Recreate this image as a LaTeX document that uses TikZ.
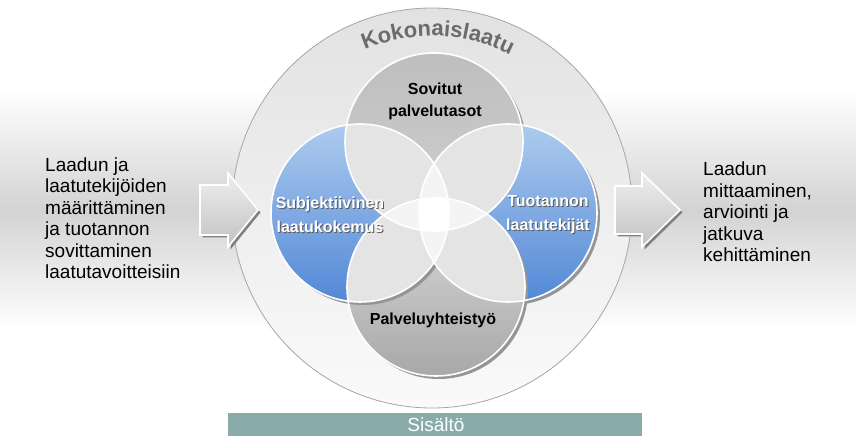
\documentclass[tikz,border=0pt]{standalone}
\usepackage{fontspec}
\setmainfont{Liberation Sans}
\usetikzlibrary{decorations.text}
\definecolor{bandgray}{HTML}{D3D3D3}
\definecolor{outtop}{HTML}{E2E2E2}
\definecolor{outbot}{HTML}{FAFAFA}
\definecolor{outline}{HTML}{A6A6A6}
\definecolor{toptop}{HTML}{BEBEBE}
\definecolor{topbot}{HTML}{D0D0D0}
\definecolor{bottop}{HTML}{DCDCDC}
\definecolor{botbot}{HTML}{A8A8A8}
\definecolor{bluetop}{HTML}{ADCBEE}
\definecolor{bluebot}{HTML}{5288D6}
\definecolor{lensgray}{HTML}{E4E4E4}
\definecolor{centergray}{HTML}{F4F4F4}
\definecolor{shadowgray}{HTML}{959595}
\definecolor{arrtop}{HTML}{EEEEEE}
\definecolor{arrbot}{HTML}{C2C2C2}
\definecolor{arrshadow}{HTML}{808080}
\definecolor{barcol}{HTML}{89ACAB}
\definecolor{kokgray}{HTML}{6B6B6B}
\definecolor{txtshadow}{HTML}{5A5A5A}
\tikzset{
  sidetext/.style={inner sep=0pt, align=left, font=\fontsize{19}{21.5}\selectfont, text=black},
  darklabel/.style={inner sep=0pt, align=center, font=\fontsize{16}{22}\selectfont\bfseries, text=black},
  whitelabel/.style={inner sep=0pt, align=center, font=\fontsize{16}{24}\selectfont\bfseries, text=white},
  shadowlabel/.style={inner sep=0pt, align=center, font=\fontsize{16}{24}\selectfont\bfseries, text=txtshadow},
  ringline/.style={white, line width=1.6pt},
  arrowbody/.style={top color=arrtop, bottom color=arrbot, draw=white, line width=1.6pt, line join=miter},
}
\def\kokfont{\fontsize{22}{22}\selectfont\bfseries\color{kokgray}}
\begin{document}
\begin{tikzpicture}[x=1pt,y=1pt]
\useasboundingbox (0,0) rectangle (856,439);
\fill[white] (0,0) rectangle (856,439);
% background band
\shade[top color=white, bottom color=white, middle color=bandgray] (0,109) rectangle (856,349);
% outer circle
\shadedraw[top color=outtop, bottom color=outbot, draw=outline, line width=0.8pt] (432,231) circle (200);
% Kokonaislaatu along arc
\path[decorate, decoration={text along path, text={|\kokfont|Kokonaislaatu}, text align={center}}]
  (432,231) ++(116:172) arc (116:60:172);
% arrows
\fill[arrshadow] (202.5,251.5) -- (230.5,251.5) -- (230.5,263.5) -- (260.5,226.5) -- (230.5,189.5) -- (230.5,201.5) -- (202.5,201.5) -- cycle;
\shadedraw[arrowbody] (200,254) -- (228,254) -- (228,266) -- (258,229) -- (228,192) -- (228,204) -- (200,204) -- cycle;
\fill[arrshadow] (617.5,250.5) -- (644.5,250.5) -- (644.5,263.5) -- (682.5,226.5) -- (644.5,189.5) -- (644.5,202.5) -- (617.5,202.5) -- cycle;
\shadedraw[arrowbody] (615,253) -- (642,253) -- (642,266) -- (680,229) -- (642,192) -- (642,205) -- (615,205) -- cycle;
% circles: top, right, bottom, left
\def\Ctop{(434,297) circle (89)}
\def\Cright{(508,226) circle (89)}
\def\Cbot{(436,152) circle (89)}
\def\Cleft{(360,226) circle (89)}
\fill[shadowgray] (437,294) circle (89);
\shade[top color=toptop, bottom color=topbot] \Ctop;
\fill[shadowgray] (511,223) circle (89);
\shade[top color=bluetop, bottom color=bluebot] \Cright;
\fill[shadowgray] (439,149) circle (89);
\shade[top color=bottop, bottom color=botbot] \Cbot;
\fill[shadowgray] (363,223) circle (89);
\shade[top color=bluetop, bottom color=bluebot] \Cleft;
% lenses
\begin{scope}\clip \Ctop; \fill[lensgray] \Cleft; \end{scope}
\begin{scope}\clip \Ctop; \fill[lensgray] \Cright; \end{scope}
\begin{scope}\clip \Cbot; \fill[lensgray] \Cleft; \end{scope}
\begin{scope}\clip \Cbot; \fill[lensgray] \Cright; \end{scope}
\begin{scope}\clip \Ctop; \fill[centergray] \Cbot; \end{scope}
\begin{scope}\clip \Cleft; \fill[centergray] \Cright; \end{scope}
\begin{scope}\clip \Ctop; \clip \Cbot; \clip \Cleft; \fill[white] \Cright; \end{scope}
% outlines
\draw[ringline] \Ctop;
\draw[ringline] \Cright;
\draw[ringline] \Cbot;
\draw[ringline] \Cleft;
% labels
\node[darklabel] (sov) at (435,338) {Sovitut\\palvelutasot};
\node[darklabel] (pal) at (433,119) {Palveluyhteistyö};
\node[shadowlabel] (subs) at (331,223) {Subjektiivinen\\laatukokemus};
\node[whitelabel] (sub) at (330,224) {Subjektiivinen\\laatukokemus};
\node[shadowlabel] (tuos) at (549,223) {Tuotannon\\laatutekijät};
\node[whitelabel] (tuo) at (548,224) {Tuotannon\\laatutekijät};
% side texts
\node[sidetext, anchor=west] (lefttext) at (45,221) {Laadun ja\\laatutekijöiden\\määrittäminen\\ja tuotannon\\sovittaminen\\laatutavoitteisiin};
\node[sidetext, anchor=west] (righttext) at (703,227) {Laadun\\mittaaminen,\\arviointi ja\\jatkuva\\kehittäminen};
% bar
\fill[barcol] (228,3) rectangle (642,26);
\node[inner sep=0pt, text=white, font=\fontsize{19}{19}\selectfont] (sis) at (436,14.5) {Sisältö};
\end{tikzpicture}
\end{document}
